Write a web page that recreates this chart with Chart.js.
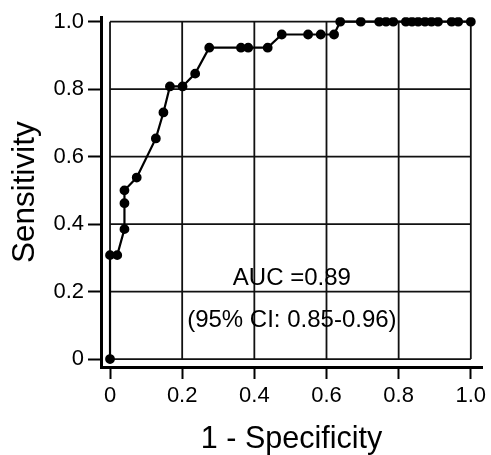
<!DOCTYPE html>
<html>
<head>
<meta charset="utf-8">
<script src="https://cdn.jsdelivr.net/npm/chart.js@4/dist/chart.umd.min.js"></script>
<style>
  body { margin: 0; background: #fff; }
</style>
</head>
<body>
<canvas id="roc" width="491" height="455"></canvas>
<script>
//Dados
const fpr = [0, 0, 0.02, 0.04, 0.04, 0.04, 0.074, 0.127, 0.148, 0.166, 0.201, 0.236, 0.275, 0.363, 0.383, 0.437, 0.476, 0.549, 0.584, 0.621, 0.638, 0.695, 0.746, 0.765, 0.785, 0.82, 0.837, 0.854, 0.873, 0.891, 0.909, 0.947, 0.965, 1.0];
const tpr = [0, 0.308, 0.308, 0.385, 0.462, 0.5, 0.538, 0.654, 0.731, 0.808, 0.808, 0.846, 0.923, 0.923, 0.923, 0.923, 0.962, 0.962, 0.962, 0.962, 1, 1, 1, 1, 1, 1, 1, 1, 1, 1, 1, 1, 1, 1];
const tickValues = [0, 0.2, 0.4, 0.6, 0.8, 1.0];
const tickLabels = ["0", "0.2", "0.4", "0.6", "0.8", "1.0"];
const notes = ["AUC =0.89", "(95% CI: 0.85-0.96)"];
const notePos = [[0.504, 0.238], [0.504, 0.115]];

const canvas = document.getElementById("roc");

//Grade só dentro de [0,1]
const innerGrid = {
  id: "innerGrid",
  beforeDatasetsDraw(chart) {
    const { ctx, scales: { x, y } } = chart;
    ctx.save();
    ctx.strokeStyle = "#111";
    ctx.lineWidth = 1.8;
    const x0 = x.getPixelForValue(0), x1 = x.getPixelForValue(1);
    const y0 = y.getPixelForValue(0), y1 = y.getPixelForValue(1);
    tickValues.forEach((v) => {
      const px = x.getPixelForValue(v);
      ctx.beginPath(); ctx.moveTo(px, y0); ctx.lineTo(px, y1); ctx.stroke();
      const py = y.getPixelForValue(v);
      ctx.beginPath(); ctx.moveTo(x0, py); ctx.lineTo(x1, py); ctx.stroke();
    });
    ctx.restore();
  },
  afterDraw(chart) {
    const { ctx, scales: { x, y } } = chart;
    ctx.save();
    ctx.fillStyle = "#000";
    ctx.font = "24px 'Liberation Sans', Arial, sans-serif";
    ctx.textAlign = "center";
    ctx.textBaseline = "middle";
    notes.forEach((t, i) => {
      ctx.fillText(t, x.getPixelForValue(notePos[i][0]), y.getPixelForValue(notePos[i][1]));
    });
    ctx.restore();
  }
};

const setTicks = (scale) => {
  scale.ticks = tickValues.map((v) => ({ value: v }));
};

new Chart(canvas, {
  type: "scatter",
  data: {
    datasets: [
      {
        data: fpr.map((v, i) => ({ x: v, y: tpr[i] })),
        showLine: true,
        borderColor: "#000",
        backgroundColor: "#000",
        borderWidth: 2.2,
        pointRadius: 3.8,
        pointHoverRadius: 3.8,
        tension: 0
      }
    ]
  },
  options: {
    responsive: false,
    animation: false,
    events: [],
    layout: { padding: { top: 15, right: 9, left: 0, bottom: 0 } },
    scales: {
      x: {
        type: "linear",
        min: -0.025,
        max: 1.031,
        afterBuildTicks: setTicks,
        afterFit: (scale) => { scale.height = 88; },
        ticks: {
          color: "#000",
          padding: 4,
          maxRotation: 0,
          font: { family: "'Liberation Sans', Arial", size: 22 },
          callback: (v, i) => tickLabels[i]
        },
        grid: {
          drawOnChartArea: false,
          drawTicks: true,
          tickLength: 12,
          tickWidth: 2,
          tickColor: "#000"
        },
        border: { display: true, color: "#000", width: 3 },
        title: {
          display: true,
          text: "1 - Specificity",
          color: "#000",
          padding: { top: 0, bottom: 0 },
          font: { family: "'Liberation Sans', Arial", size: 30.5, lineHeight: 1.0 }
        }
      },
      y: {
        type: "linear",
        min: -0.0236,
        max: 1.0133,
        afterBuildTicks: setTicks,
        afterFit: (scale) => { scale.width = 101; },
        ticks: {
          color: "#000",
          padding: 4,
          font: { family: "'Liberation Sans', Arial", size: 22 },
          callback: (v, i) => tickLabels[i]
        },
        grid: {
          drawOnChartArea: false,
          drawTicks: true,
          tickLength: 13,
          tickWidth: 2,
          tickColor: "#000"
        },
        border: { display: true, color: "#000", width: 3 },
        title: {
          display: true,
          text: "Sensitivity",
          color: "#000",
          padding: { top: 6, bottom: 0 },
          font: { family: "'Liberation Sans', Arial", size: 31.5, lineHeight: 1.2 }
        }
      }
    },
    plugins: {
      legend: { display: false },
      tooltip: { enabled: false }
    }
  },
  plugins: [innerGrid]
});
</script>
</body>
</html>
